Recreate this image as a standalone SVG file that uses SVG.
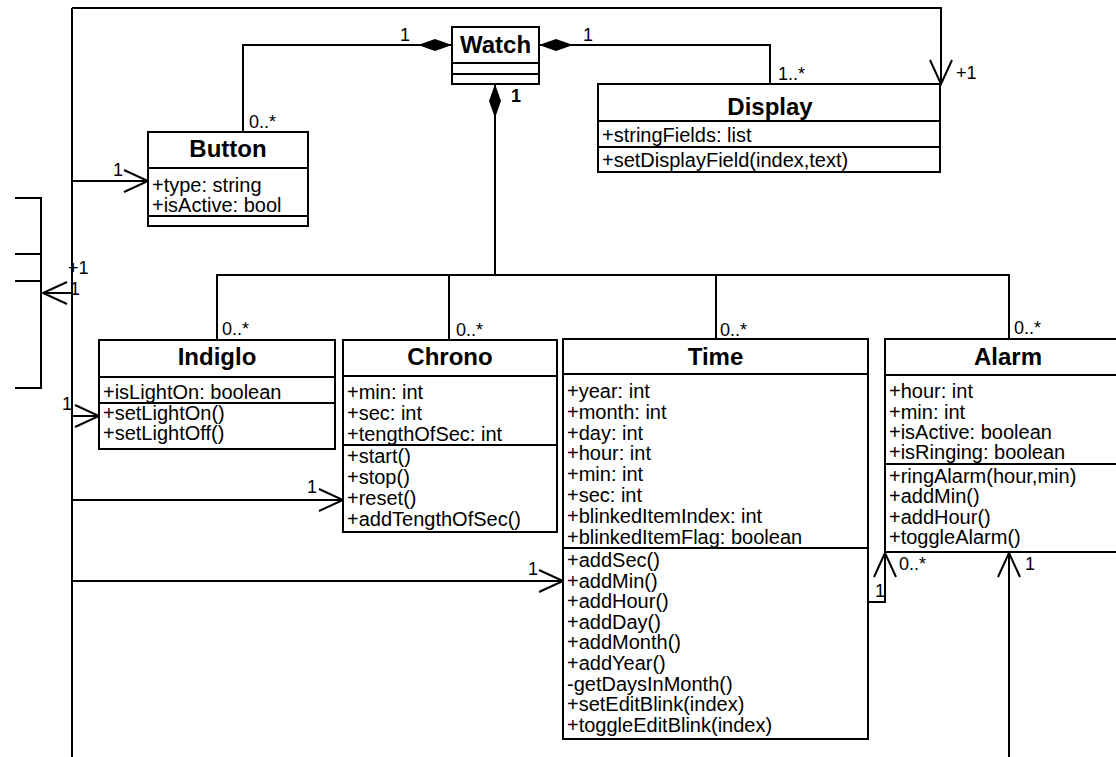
<svg xmlns="http://www.w3.org/2000/svg" width="1116" height="757" viewBox="0 0 1116 757">
<style>
.box{fill:#fff;stroke:#000;stroke-width:2}
.sep{stroke:#000;stroke-width:2}
.ln{fill:none;stroke:#000;stroke-width:2}
text{font-family:"Liberation Sans",Arial,sans-serif;font-size:20px;fill:#000}
.h{font-weight:bold;font-size:24px;text-anchor:middle}
.lb{font-size:18px}
</style>
<defs>
<marker id="open" markerUnits="userSpaceOnUse" markerWidth="30" markerHeight="26" refX="26" refY="12" orient="auto" overflow="visible">
<path d="M2,1 L26,12 L2,23" fill="none" stroke="#000" stroke-width="2"/>
</marker>
<marker id="dia" markerUnits="userSpaceOnUse" markerWidth="36" markerHeight="14" refX="0" refY="6" orient="auto" overflow="visible">
<path d="M0,6 L17,0 L34,6 L17,12 Z" fill="#000"/>
</marker>
</defs>
<rect width="1116" height="757" fill="#fff"/>
<g id="bracket">
<path class="ln" d="M15,198 L41,198 L41,388 L15,388 M15,254 L41,254 M15,281 L41,281"/>
</g>
<g id="connectors">
<path class="ln" d="M72,8 L72,757"/>
<path class="ln" d="M72,8 L941,8 L941,84" marker-end="url(#open)"/>
<path class="ln" d="M452,45 L243,45 L243,132" marker-start="url(#dia)"/>
<path class="ln" d="M539,45 L770,45 L770,84" marker-start="url(#dia)"/>
<path class="ln" d="M495,84 L495,275" marker-start="url(#dia)"/>
<path class="ln" d="M217,340 L217,275 L1009,275 L1009,339 M449,275 L449,340 M716,275 L716,339"/>
<path class="ln" d="M72,181 L148,181" marker-end="url(#open)"/>
<path class="ln" d="M72,293 L43,293" marker-end="url(#open)"/>
<path class="ln" d="M72,416 L99,416" marker-end="url(#open)"/>
<path class="ln" d="M72,500 L343,500" marker-end="url(#open)"/>
<path class="ln" d="M72,581 L563,581" marker-end="url(#open)"/>
<path class="ln" d="M868,602 L885,602 L885,553" marker-end="url(#open)"/>
<path class="ln" d="M1009,757 L1009,553" marker-end="url(#open)"/>
<text class="lb" x="400" y="41">1</text>
<text class="lb" x="583" y="41">1</text>
<text class="lb" x="778" y="80">1..*</text>
<text class="lb" x="956" y="79">+1</text>
<text class="lb" x="511" y="102" font-weight="bold">1</text>
<text class="lb" x="249" y="128">0..*</text>
<text class="lb" x="113" y="176">1</text>
<text class="lb" x="68" y="274">+1</text>
<text class="lb" x="70" y="295">1</text>
<text class="lb" x="62" y="410">1</text>
<text class="lb" x="222" y="335">0..*</text>
<text class="lb" x="456" y="336">0..*</text>
<text class="lb" x="720" y="336">0..*</text>
<text class="lb" x="1014" y="334">0..*</text>
<text class="lb" x="307" y="493">1</text>
<text class="lb" x="528" y="575">1</text>
<text class="lb" x="875" y="597">1</text>
<text class="lb" x="899" y="570">0..*</text>
<text class="lb" x="1025" y="570">1</text>
</g>
<g id="watch">
<rect class="box" x="452" y="27" width="87" height="57"/>
<line class="sep" x1="452" y1="63" x2="539" y2="63"/>
<line class="sep" x1="452" y1="74" x2="539" y2="74"/>
<text class="h" x="495.5" y="53">Watch</text>
</g>
<g id="display">
<rect class="box" x="598" y="84" width="342" height="88"/>
<line class="sep" x1="598" y1="121" x2="940" y2="121"/>
<line class="sep" x1="598" y1="147" x2="940" y2="147"/>
<text class="h" x="770" y="115">Display</text>
<text x="602" y="142">+stringFields: list</text>
<text x="602" y="167">+setDisplayField(index,text)</text>
</g>
<g id="button">
<rect class="box" x="148" y="132" width="160" height="94"/>
<line class="sep" x1="148" y1="168" x2="308" y2="168"/>
<line class="sep" x1="148" y1="216" x2="308" y2="216"/>
<text class="h" x="228" y="157">Button</text>
<text x="152" y="192">+type: string</text>
<text x="152" y="212">+isActive: bool</text>
</g>
<g id="indiglo">
<rect class="box" x="99" y="340" width="236" height="109"/>
<line class="sep" x1="99" y1="377" x2="335" y2="377"/>
<line class="sep" x1="99" y1="403" x2="335" y2="403"/>
<text class="h" x="217" y="365">Indiglo</text>
<text x="103" y="399">+isLightOn: boolean</text>
<text x="103" y="420">+setLightOn()</text>
<text x="103" y="440">+setLightOff()</text>
</g>
<g id="chrono">
<rect class="box" x="343" y="340" width="214" height="192"/>
<line class="sep" x1="343" y1="376" x2="557" y2="376"/>
<line class="sep" x1="343" y1="445" x2="557" y2="445"/>
<text class="h" x="450" y="365">Chrono</text>
<text x="347" y="399">+min: int</text>
<text x="347" y="420">+sec: int</text>
<text x="347" y="440.5">+tengthOfSec: int</text>
<text x="347" y="463">+start()</text>
<text x="347" y="484">+stop()</text>
<text x="347" y="505">+reset()</text>
<text x="347" y="526">+addTengthOfSec()</text>
</g>
<g id="time">
<rect class="box" x="563" y="339" width="305" height="400"/>
<line class="sep" x1="563" y1="374" x2="868" y2="374"/>
<line class="sep" x1="563" y1="548" x2="868" y2="548"/>
<text class="h" x="715.5" y="365">Time</text>
<text x="567" y="398">+year: int</text>
<text x="567" y="418.8">+month: int</text>
<text x="567" y="439.6">+day: int</text>
<text x="567" y="460.4">+hour: int</text>
<text x="567" y="481.2">+min: int</text>
<text x="567" y="502">+sec: int</text>
<text x="567" y="522.8">+blinkedItemIndex: int</text>
<text x="567" y="543.6">+blinkedItemFlag: boolean</text>
<text x="567" y="567">+addSec()</text>
<text x="567" y="587.6">+addMin()</text>
<text x="567" y="608.2">+addHour()</text>
<text x="567" y="628.8">+addDay()</text>
<text x="567" y="649.4">+addMonth()</text>
<text x="567" y="670">+addYear()</text>
<text x="567" y="690.6">-getDaysInMonth()</text>
<text x="567" y="711.2">+setEditBlink(index)</text>
<text x="567" y="731.8">+toggleEditBlink(index)</text>
</g>
<g id="alarm">
<rect class="box" x="885" y="339" width="247" height="213"/>
<line class="sep" x1="885" y1="375" x2="1132" y2="375"/>
<line class="sep" x1="885" y1="464" x2="1132" y2="464"/>
<text class="h" x="1008" y="365">Alarm</text>
<text x="889" y="398">+hour: int</text>
<text x="889" y="418.5">+min: int</text>
<text x="889" y="439">+isActive: boolean</text>
<text x="889" y="459">+isRinging: boolean</text>
<text x="889" y="483">+ringAlarm(hour,min)</text>
<text x="889" y="503.3">+addMin()</text>
<text x="889" y="523.6">+addHour()</text>
<text x="889" y="544">+toggleAlarm()</text>
</g>
</svg>
